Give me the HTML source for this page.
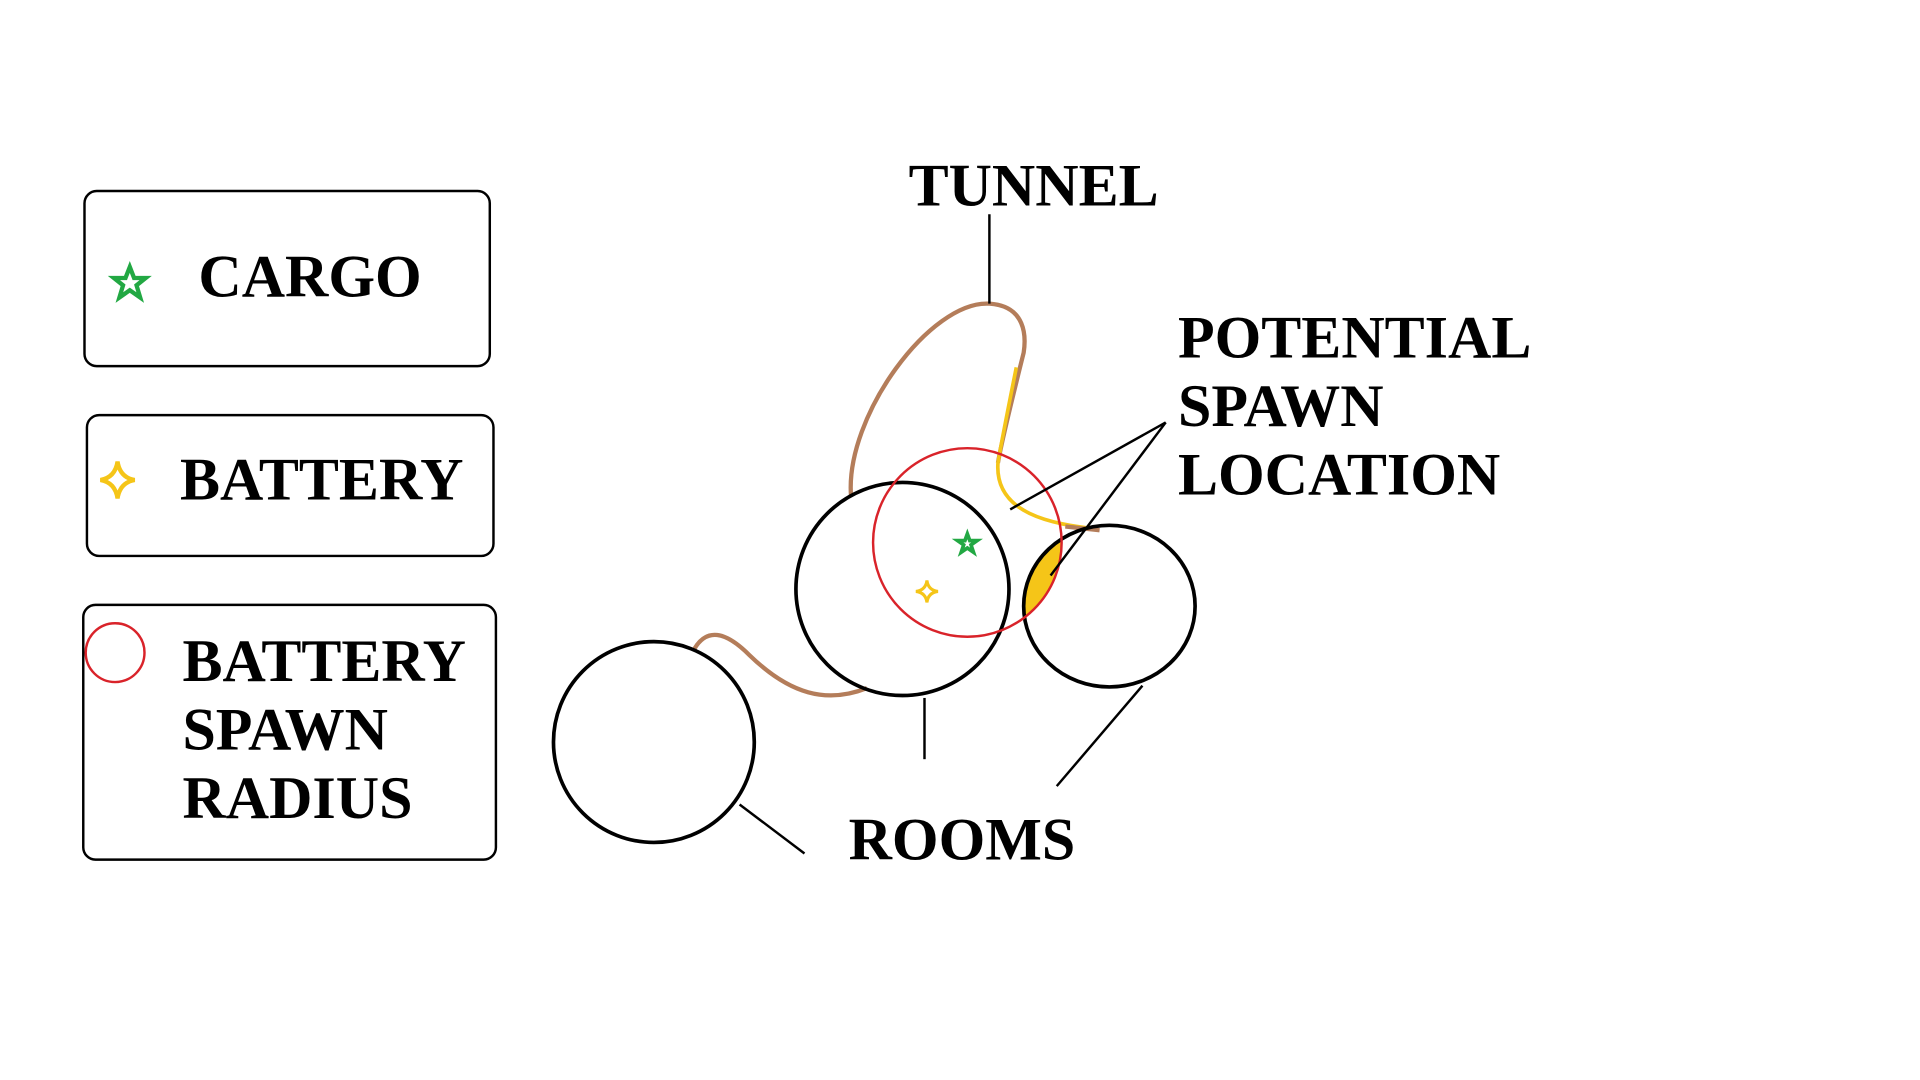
<!DOCTYPE html>
<html><head><meta charset="utf-8"><style>
html,body{margin:0;padding:0;background:#fff;width:1920px;height:1080px;overflow:hidden}
svg{display:block}
text{font-family:"Liberation Serif",serif;font-weight:bold;font-size:49px;fill:#000}
</style></head><body>
<svg width="1920" height="1080" viewBox="0 0 1568 882" preserveAspectRatio="none">
<defs>
<clipPath id="rc"><circle cx="790" cy="443" r="77"/></clipPath>
</defs>
<g fill="none" stroke="#000" stroke-width="2">
<rect x="69" y="156" width="331" height="143" rx="10"/>
<rect x="71" y="339" width="332" height="115" rx="10"/>
<rect x="68" y="494" width="337" height="208" rx="10"/>
</g>
<text x="162" y="242">CARGO</text>
<text x="147" y="408">BATTERY</text>
<text x="149" y="556">BATTERY</text>
<text x="149" y="612">SPAWN</text>
<text x="149" y="668">RADIUS</text>
<text x="742" y="168">TUNNEL</text>
<text x="962" y="292">POTENTIAL</text>
<text x="962" y="348">SPAWN</text>
<text x="962" y="404">LOCATION</text>
<text x="693" y="702">ROOMS</text>
<polygon points="106,218 109.5,227 119,227 111.5,233 114.5,243 106,237 97.5,243 100.5,233 93,227 102.5,227" fill="none" stroke="#22a843" stroke-width="3.5"/>
<path d="M96,377 Q98,390 110,392 Q98,394 96,407 Q94,394 82,392 Q94,390 96,377Z" fill="none" stroke="#f5c518" stroke-width="3.5"/>
<circle cx="94" cy="533" r="24" fill="none" stroke="#d9232a" stroke-width="2"/>
<ellipse cx="906" cy="495" rx="70" ry="66" fill="#f5c518" clip-path="url(#rc)"/>
<path d="M695,405 C690,340 760,245 808,248 C838,250 838,275 836,288 C828,320 818,360 815,378" fill="none" stroke="#b47d5a" stroke-width="3.5"/>
<path d="M830,300 C824,330 818,360 815,378 C812,420 860,428 895,432" fill="none" stroke="#f5c518" stroke-width="3"/>
<path d="M870,430 L898,433" stroke="#b47d5a" stroke-width="3.5"/>
<path d="M567,530 C577,513 592,515 612,535 C645,567 675,575 708,562" fill="none" stroke="#b47d5a" stroke-width="3.5"/>
<g fill="none" stroke="#000" stroke-width="3">
<circle cx="534" cy="606" r="82"/>
<circle cx="737" cy="481" r="87"/>
<ellipse cx="906" cy="495" rx="70" ry="66"/>
</g>
<circle cx="790" cy="443" r="77" fill="none" stroke="#d9232a" stroke-width="2"/>
<polygon points="790,436 792,441.5 798,441.5 793,445 795,451 790,447.5 785,451 787,445 782,441.5 788,441.5" fill="none" stroke="#22a843" stroke-width="3"/>
<path d="M757,474 Q758,482 766,483 Q758,484 757,492 Q756,484 748,483 Q756,482 757,474Z" fill="none" stroke="#f5c518" stroke-width="2.5"/>
<g stroke="#000" stroke-width="2" fill="none">
<line x1="808" y1="175" x2="808" y2="248"/>
<line x1="952" y1="345" x2="825" y2="416"/>
<line x1="952" y1="345" x2="858" y2="470"/>
<line x1="604" y1="657" x2="657" y2="697"/>
<line x1="755" y1="570" x2="755" y2="620"/>
<line x1="933" y1="560" x2="863" y2="642"/>
</g>
</svg>
</body></html>
